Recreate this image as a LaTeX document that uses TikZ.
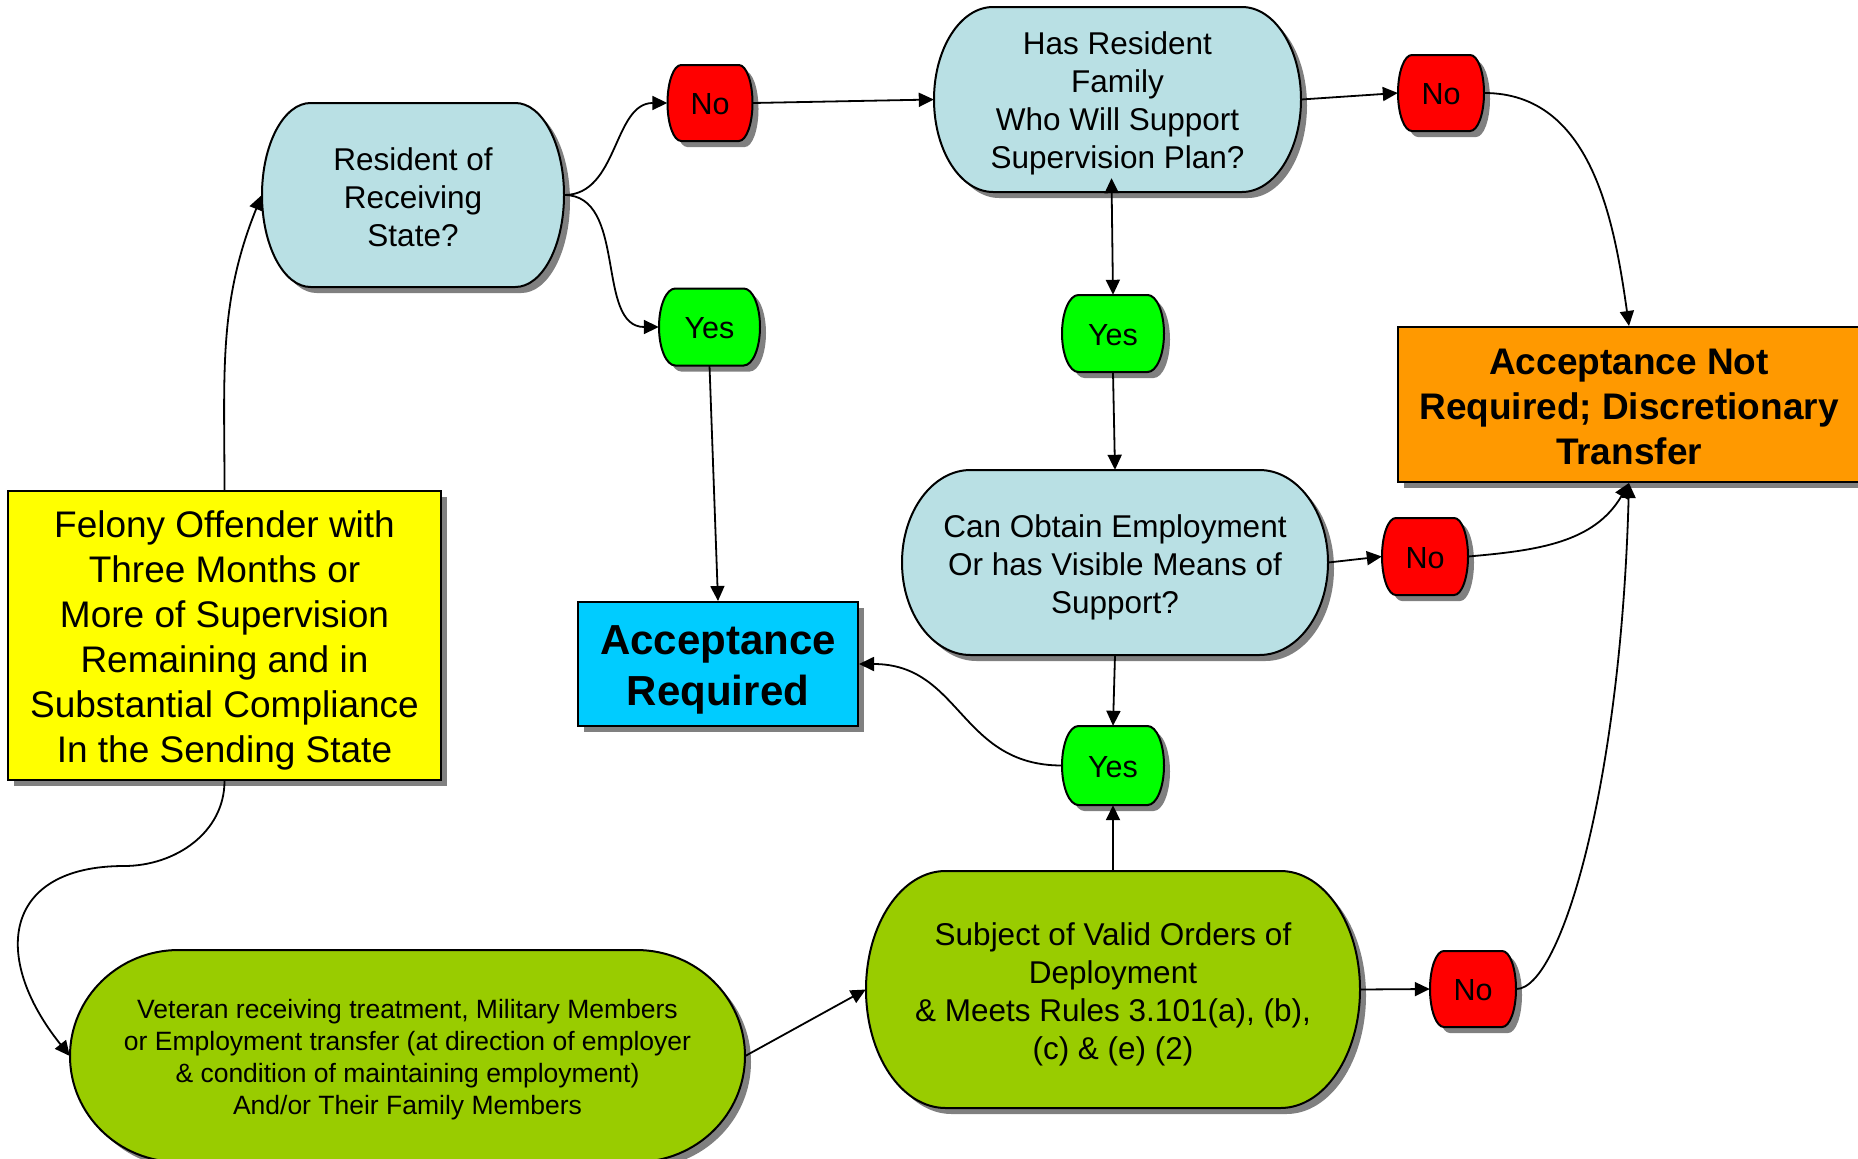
\documentclass[tikz,border=0pt]{standalone}
\usepackage{fontspec}
\setmainfont{Liberation Sans}
\usetikzlibrary{arrows.meta,shadows}
\definecolor{lblue}{RGB}{185,224,228}
\definecolor{shadowgray}{RGB}{128,128,128}
\definecolor{dred}{RGB}{255,0,0}
\definecolor{dgreen}{RGB}{0,255,0}
\definecolor{dyellow}{RGB}{255,255,0}
\definecolor{dorange}{RGB}{255,153,0}
\definecolor{dcyan}{RGB}{0,204,255}
\definecolor{dolive}{RGB}{153,204,0}
\newcommand{\termbox}[5]{%
  \pgfmathsetmacro\tmRx{0.161*#3}%
  \pgfmathsetmacro\tmRy{#4/2}%
  \pgfmathsetmacro\tmHw{#3/2-\tmRx}%
  \fill[shadowgray] ({#1-\tmHw+6},{-#2+\tmRy-6}) -- ++({2*\tmHw},0)
    arc[start angle=90,end angle=-90,x radius=\tmRx pt,y radius=\tmRy pt]
    -- ++({-2*\tmHw},0)
    arc[start angle=270,end angle=90,x radius=\tmRx pt,y radius=\tmRy pt] -- cycle;
  \filldraw[fill=#5,draw=black,line width=2pt] ({#1-\tmHw},{-#2+\tmRy}) -- ++({2*\tmHw},0)
    arc[start angle=90,end angle=-90,x radius=\tmRx pt,y radius=\tmRy pt]
    -- ++({-2*\tmHw},0)
    arc[start angle=270,end angle=90,x radius=\tmRx pt,y radius=\tmRy pt] -- cycle;
}
\tikzset{
  base/.style={inner sep=0pt, align=center, text=black, shape=rectangle},
  area/.style 2 args={base, minimum width=#1pt, minimum height=#2pt},
  mtext/.style={base, font=\fontsize{31.5pt}{38pt}\selectfont},
  yntext/.style={base, font=\fontsize{30.5pt}{36pt}\selectfont, yshift=-1.5pt},
  vtext/.style={base, font=\fontsize{26.5pt}{32pt}\selectfont},
  rectbox/.style={base, draw=black, line width=2pt,
    drop shadow={shadow xshift=6pt, shadow yshift=-6pt, fill=shadowgray, opacity=1}},
  conn/.style={line width=1.8pt, -{Triangle[length=15pt,width=14pt]}},
  conn2/.style={line width=1.8pt, {Triangle[length=15pt,width=14pt]}-{Triangle[length=15pt,width=14pt]}}
}
\begin{document}
\begin{tikzpicture}[x=1pt,y=1pt]
\useasboundingbox (0,0) rectangle (1858,-1159);
\fill[white] (0,0) rectangle (1858,-1159);
% terminator shapes
\termbox{413}{195}{302}{184}{lblue}
\termbox{710}{103}{85}{76}{dred}
\termbox{709.5}{327}{101}{77}{dgreen}
\termbox{1117.5}{99.5}{367}{185}{lblue}
\termbox{1441}{93}{86}{76}{dred}
\termbox{1113}{333.5}{102}{77}{dgreen}
\termbox{1115}{562.5}{426}{185}{lblue}
\termbox{1425}{556.5}{86}{77}{dred}
\termbox{1113}{765.5}{102}{79}{dgreen}
\termbox{407.5}{1056}{675}{212}{dolive}
\termbox{1113}{989.5}{494}{237}{dolive}
\termbox{1473}{989}{86}{76}{dred}
% nodes (text lowered slightly via centre labels)
\node[area={302}{184}, label={[mtext,yshift=-2pt]center:{Resident of\\Receiving\\State?}}] (res) at (413,-195) {};
\node[area={85}{76}, label={[yntext]center:No}] (no1) at (710,-103) {};
\node[area={101}{77}, label={[yntext]center:Yes}] (yes1) at (709.5,-327) {};
\node[area={367}{185}, label={[mtext,yshift=-3.5pt]center:{Has Resident\\Family\\Who Will Support\\Supervision Plan?}}] (hrf) at (1117.5,-99.5) {};
\node[area={86}{76}, label={[yntext]center:No}] (no2) at (1441,-93) {};
\node[area={102}{77}, label={[yntext]center:Yes}] (yes2) at (1113,-333.5) {};
\node[area={426}{185}, label={[mtext,yshift=-4.5pt]center:{Can Obtain Employment\\Or has Visible Means of\\Support?}}] (can) at (1115,-562.5) {};
\node[area={86}{77}, label={[yntext]center:No}] (no3) at (1425,-556.5) {};
\node[area={102}{79}, label={[yntext]center:Yes}] (yes3) at (1113,-765.5) {};
\node[area={675}{212}, label={[vtext,yshift=-3.5pt]center:{Veteran receiving treatment, Military Members\\or Employment transfer (at direction of employer\\\& condition of maintaining employment)\\And/or Their Family Members}}] (vet) at (407.5,-1056) {};
\node[area={494}{237}, label={[mtext,yshift=-5pt]center:{Subject of Valid Orders of\\Deployment\\\& Meets Rules 3.101(a), (b),\\(c) \& (e) (2)}}] (sub) at (1113,-989.5) {};
\node[area={86}{76}, label={[yntext]center:No}] (no4) at (1473,-989) {};
% rectangles
\node[rectbox, fill=dyellow, area={433}{289}, label={[base,font=\fontsize{37pt}{45pt}\selectfont,yshift=-5pt]center:{Felony Offender with\\Three Months or\\More of Supervision\\Remaining and in\\Substantial Compliance\\In the Sending State}}] (fel) at (224.5,-635.5) {};
\node[rectbox, fill=dcyan, area={280}{124}, label={[base,font=\bfseries\fontsize{42pt}{51pt}\selectfont,yshift=-6pt]center:{Acceptance\\Required}}] (ar) at (718,-664) {};
\node[rectbox, fill=dorange, area={462}{155}, label={[base,font=\bfseries\fontsize{37pt}{45pt}\selectfont,yshift=-2.5pt]center:{Acceptance Not\\Required; Discretionary\\Transfer}}] (nar) at (1629,-404.5) {};
\coordinate (fbend) at (124,-866);
% connectors
\draw[conn] (fel.north) to[out=90,in=-112] (res.west);
\draw[conn] (res.east) to[out=0,in=180] (no1.west);
\draw[conn] (res.east) to[out=0,in=180] (yes1.west);
\draw[conn] (no1.east) -- (hrf.west);
\draw[conn] (hrf.east) -- (no2.west);
\draw[conn] (no2.east) to[out=0,in=98] (nar.north);
\draw[conn2] ([shift={(-6,14)}]hrf.south) -- (yes2.north);
\draw[conn] (yes2.south) -- (can.north);
\draw[conn] (can.east) -- (no3.west);
\draw[conn] (no3.east) to[out=5,in=-120] (nar.south);
\draw[conn] (can.south) -- (yes3.north);
\draw[conn] (yes3.west) to[out=180,in=0,looseness=1.15] (ar.east);
\draw[conn] (sub.north) -- (yes3.south);
\draw[conn] (sub.east) -- (no4.west);
\draw[conn] (no4.east) .. controls +(45,0) and +(-8,-300) .. (nar.south);
\draw[conn] (fel.south) to[out=-90,in=0] (fbend) .. controls +(-120,0) and +(-80,100) .. (vet.west);
\draw[conn] (vet.east) -- (sub.west);
\draw[conn] (yes1.south) -- (ar.north);
\end{tikzpicture}
\end{document}
